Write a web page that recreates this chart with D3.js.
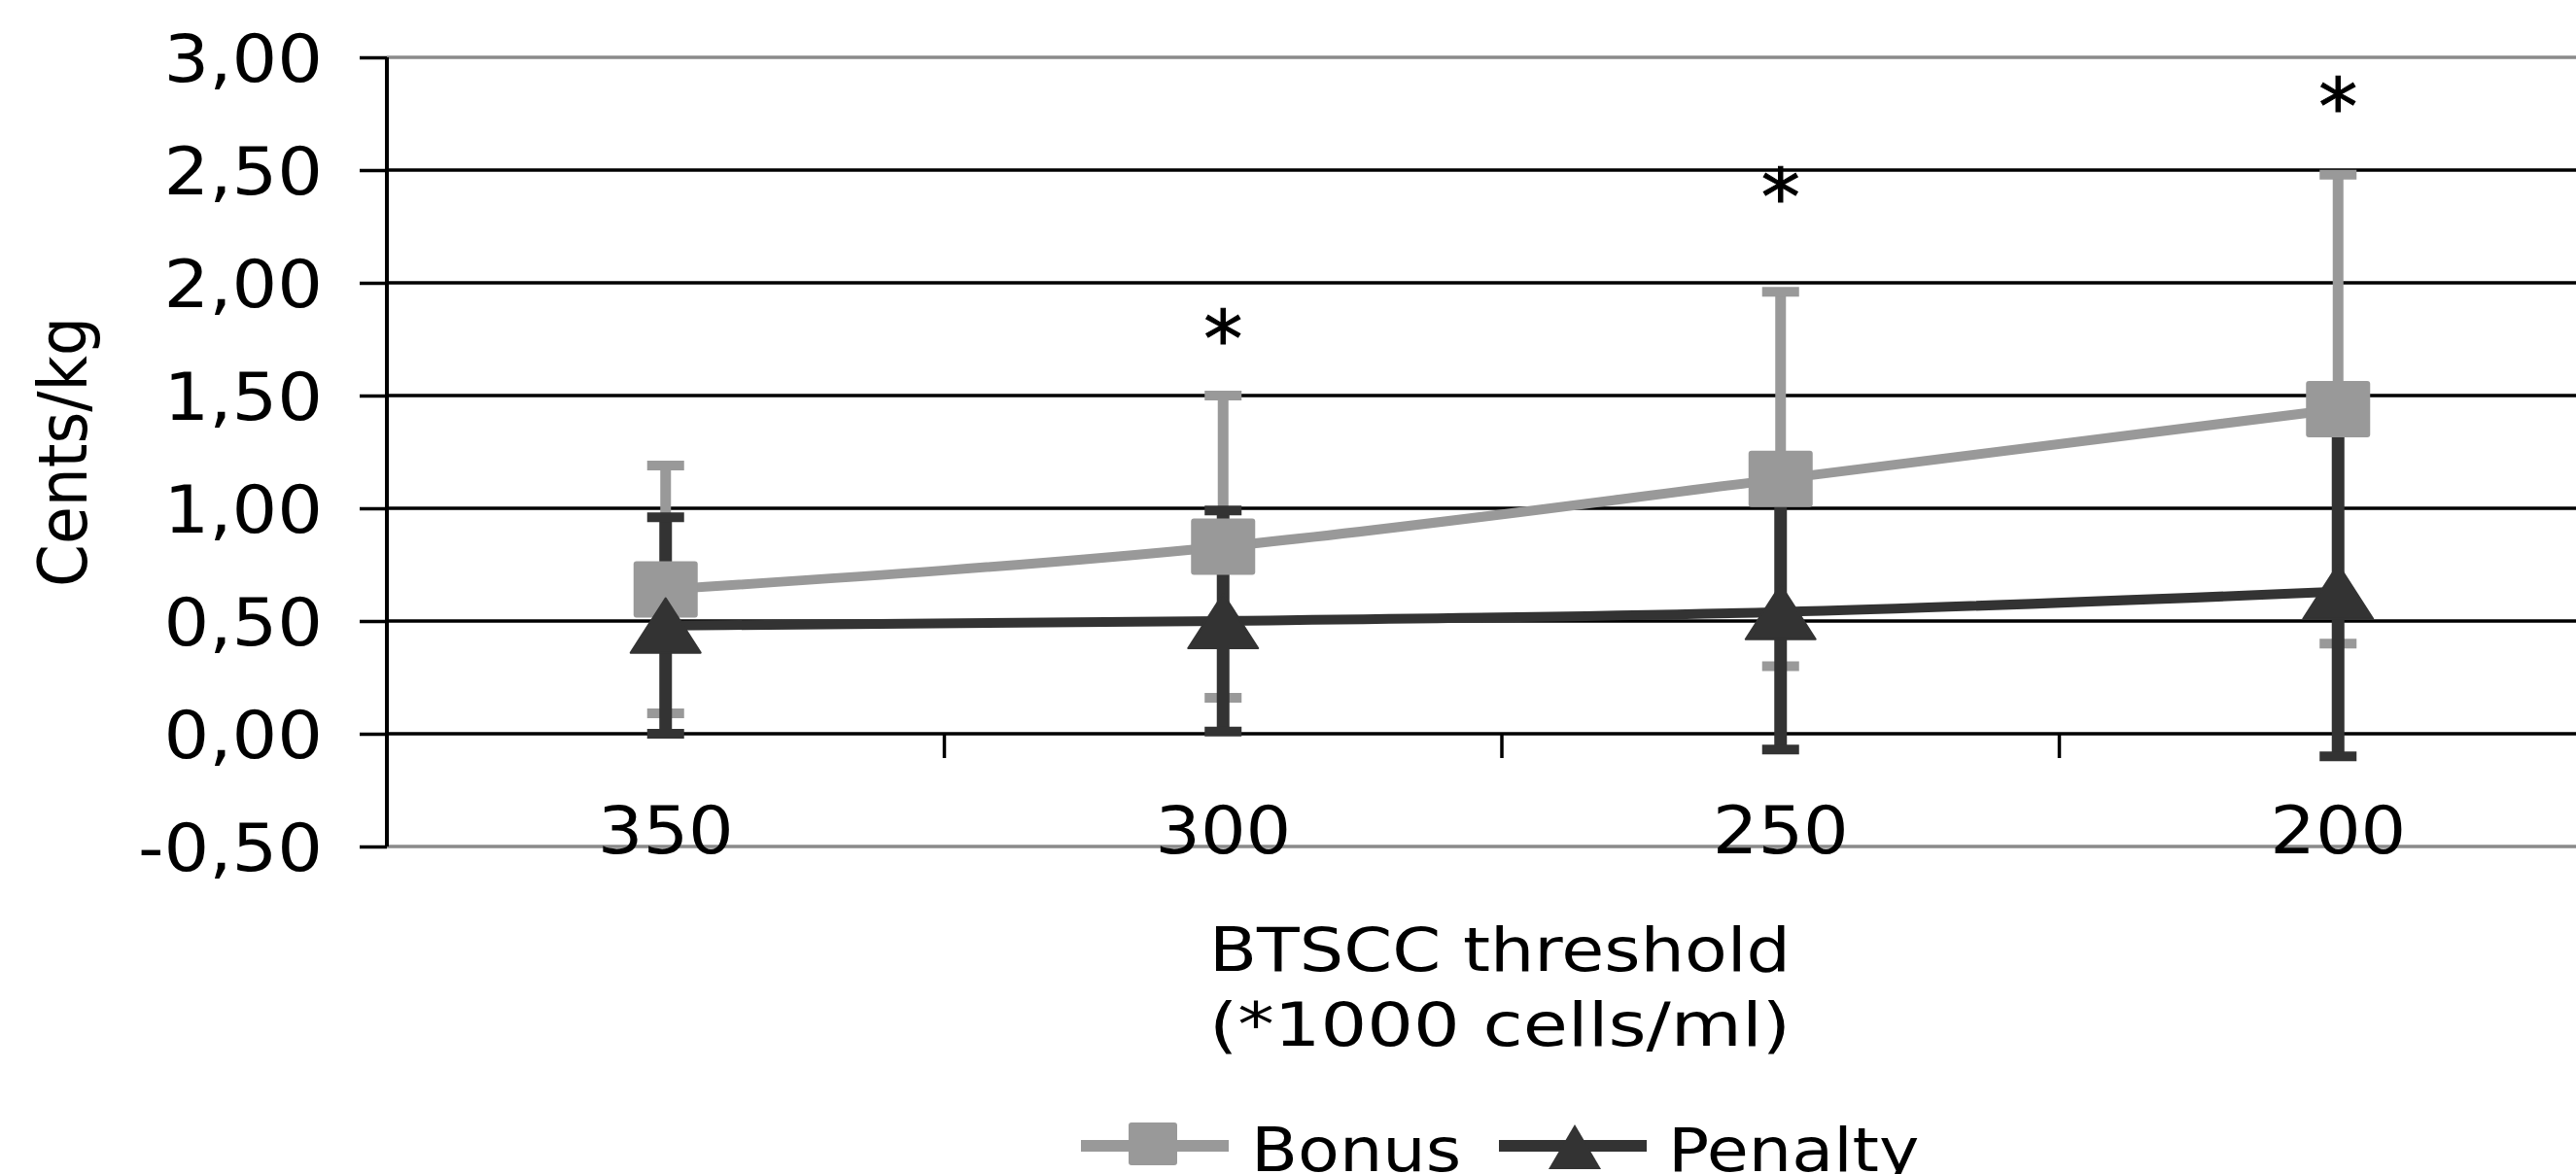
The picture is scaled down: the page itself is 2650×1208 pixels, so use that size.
<!DOCTYPE html>
<html>
<head>
<meta charset="utf-8">
<script src="https://cdn.jsdelivr.net/npm/d3@7"></script>
<style>
	html, body { margin: 0; padding: 0; background: #fff; }
	svg { display: block; }
	text { font-family: "DejaVu Sans", Verdana, sans-serif; fill: #000; }
</style>
</head>
<body>
<div id="chart"></div>
<script>
var categories = ["350", "300", "250", "200"];
var bonus = [0.64, 0.83, 1.13, 1.44];
var bonusErr = [0.55, 0.67, 0.83, 1.04];
var penalty = [0.48, 0.50, 0.54, 0.63];
var penaltyErr = [0.48, 0.49, 0.61, 0.73];
var stars = [null, 1.80, 2.43, 2.83];
var yDomain = [-0.5, 3];

var W = 2650, H = 1208;
var plotLeft = 398, plotTop = 59, plotBottom = 871;
var step = 573.5;
var bonusFill = "#999999", penaltyFill = "#333333";
var stretch = 1.13, tickStretch = 1.08;

var locale = d3.formatLocale({ decimal: ",", thousands: ".", grouping: [3], currency: ["", ""], minus: "-" });
var fmt = locale.format(".2f");

var svg = d3.select("#chart").append("svg").attr("width", W).attr("height", H);

var x = d3.scaleBand().domain(categories).range([plotLeft, plotLeft + step * categories.length]);
var y = d3.scaleLinear().domain(yDomain).range([plotBottom, plotTop]);
var yTicks = d3.range(yDomain[0], yDomain[1] + 0.001, 0.5);
var cx = function(i) { return x(categories[i]) + x.bandwidth() / 2; };

// gridlines
svg.append("g").selectAll("line").data(yTicks).enter().append("line")
	.attr("x1", plotLeft).attr("x2", W)
	.attr("y1", function(d) { return y(d); })
	.attr("y2", function(d) { return y(d); })
	.attr("stroke", function(d, i) { return (i === 0 || i === yTicks.length - 1) ? "#8a8a8a" : "#000"; })
	.attr("stroke-width", 3.5);

// y axis
var yAxis = d3.axisLeft(y).tickValues(yTicks).tickSize(28).tickPadding(38).tickFormat(fmt);
var ya = svg.append("g").attr("transform", "translate(" + plotLeft + ",0)").call(yAxis);
ya.select(".domain").attr("stroke", "#000").attr("stroke-width", 4).attr("d", "M0," + plotTop + "V" + plotBottom);
ya.selectAll(".tick line").attr("stroke", "#000").attr("stroke-width", 3.5);
ya.selectAll(".tick text")
	.attr("font-size", 68).attr("font-family", "DejaVu Sans").attr("fill", "#000")
	.attr("dy", "0.36em")
	.attr("x", -66 / tickStretch)
	.attr("transform", "scale(" + tickStretch + ",1)");

// category axis at zero
var bounds = d3.range(1, categories.length).map(function(i) { return plotLeft + i * x.step(); });
svg.append("g").selectAll("line").data(bounds).enter().append("line")
	.attr("x1", function(d) { return d; }).attr("x2", function(d) { return d; })
	.attr("y1", y(0)).attr("y2", y(0) + 25)
	.attr("stroke", "#000").attr("stroke-width", 3.5);

svg.append("g").selectAll("text").data(categories).enter().append("text")
	.attr("transform", function(d, i) { return "translate(" + cx(i) + ",878) scale(" + tickStretch + ",1)"; })
	.attr("text-anchor", "middle")
	.attr("font-size", 68)
	.text(function(d) { return d; });

// error bars
function errorBars(vals, errs, color, width) {
	var g = svg.append("g");
	vals.forEach(function(v, i) {
		var hi = v + errs[i], lo = v - errs[i];
		g.append("line").attr("x1", cx(i)).attr("x2", cx(i)).attr("y1", y(hi)).attr("y2", y(lo))
			.attr("stroke", color).attr("stroke-width", width);
		[hi, lo].forEach(function(e) {
			g.append("line").attr("x1", cx(i) - 19).attr("x2", cx(i) + 19).attr("y1", y(e)).attr("y2", y(e))
				.attr("stroke", color).attr("stroke-width", 10);
		});
	});
}
errorBars(bonus, bonusErr, bonusFill, 11);
errorBars(penalty, penaltyErr, penaltyFill, 13);

var line = d3.line()
	.x(function(d, i) { return cx(i); })
	.y(function(d) { return y(d); })
	.curve(d3.curveMonotoneX);

// bonus series
svg.append("path").datum(bonus).attr("d", line)
	.attr("fill", "none").attr("stroke", bonusFill).attr("stroke-width", 10);
svg.append("g").selectAll("rect").data(bonus).enter().append("rect")
	.attr("x", function(d, i) { return cx(i) - 33; })
	.attr("y", function(d) { return y(d) - 29; })
	.attr("width", 66).attr("height", 58).attr("rx", 3)
	.attr("fill", bonusFill);

// penalty series
function tri(w, h) {
	return "M0," + (-h / 2) + "L" + (w / 2) + "," + (h / 2) + "L" + (-w / 2) + "," + (h / 2) + "Z";
}
svg.append("path").datum(penalty).attr("d", line)
	.attr("fill", "none").attr("stroke", penaltyFill).attr("stroke-width", 10);
svg.append("g").selectAll("path").data(penalty).enter().append("path")
	.attr("transform", function(d, i) { return "translate(" + cx(i) + "," + y(d) + ")"; })
	.attr("d", tri(72, 56))
	.attr("fill", penaltyFill)
	.attr("stroke", penaltyFill).attr("stroke-width", 2).attr("stroke-linejoin", "round");

// significance marks
svg.append("g").selectAll("text").data(stars).enter()
	.filter(function(d) { return d !== null; })
	.append("text")
	.attr("x", function(d) { return cx(stars.indexOf(d)); })
	.attr("y", function(d) { return y(d) + 40; })
	.attr("text-anchor", "middle")
	.attr("font-size", 80)
	.attr("stroke", "#000").attr("stroke-width", 1)
	.text("*");

// axis titles
var yt = svg.append("g").attr("transform", "translate(89,465) scale(" + stretch + ",1) rotate(-90)");
yt.append("text").attr("text-anchor", "middle").attr("font-size", 62)
	.attr("textLength", 278).attr("lengthAdjust", "spacingAndGlyphs").text("Cents/kg");

var xt = svg.append("g").attr("transform", "translate(" + (plotLeft + step * 2 - 2) + ",0)");
xt.append("text").attr("y", 999).attr("text-anchor", "middle").attr("font-size", 62)
	.attr("textLength", 598).attr("lengthAdjust", "spacingAndGlyphs").text("BTSCC threshold");
xt.append("text").attr("y", 1076).attr("text-anchor", "middle").attr("font-size", 62)
	.attr("textLength", 598).attr("lengthAdjust", "spacingAndGlyphs").text("(*1000 cells/ml)");

// legend
var legend = svg.append("g");
legend.append("line").attr("x1", 1112).attr("x2", 1264).attr("y1", 1179).attr("y2", 1179)
	.attr("stroke", bonusFill).attr("stroke-width", 12);
legend.append("rect").attr("x", 1161).attr("y", 1155).attr("width", 50).attr("height", 44).attr("rx", 3)
	.attr("fill", bonusFill);
legend.append("g").attr("transform", "translate(1287,1205) scale(" + stretch + ",1)")
	.append("text").attr("font-size", 62).text("Bonus");

legend.append("line").attr("x1", 1542).attr("x2", 1694).attr("y1", 1179).attr("y2", 1179)
	.attr("stroke", penaltyFill).attr("stroke-width", 12);
legend.append("path").attr("transform", "translate(1620,1180)").attr("d", tri(54, 46))
	.attr("fill", penaltyFill);
legend.append("g").attr("transform", "translate(1716,1205) scale(" + stretch + ",1)")
	.append("text").attr("font-size", 62).text("Penalty");
</script>
</body>
</html>
